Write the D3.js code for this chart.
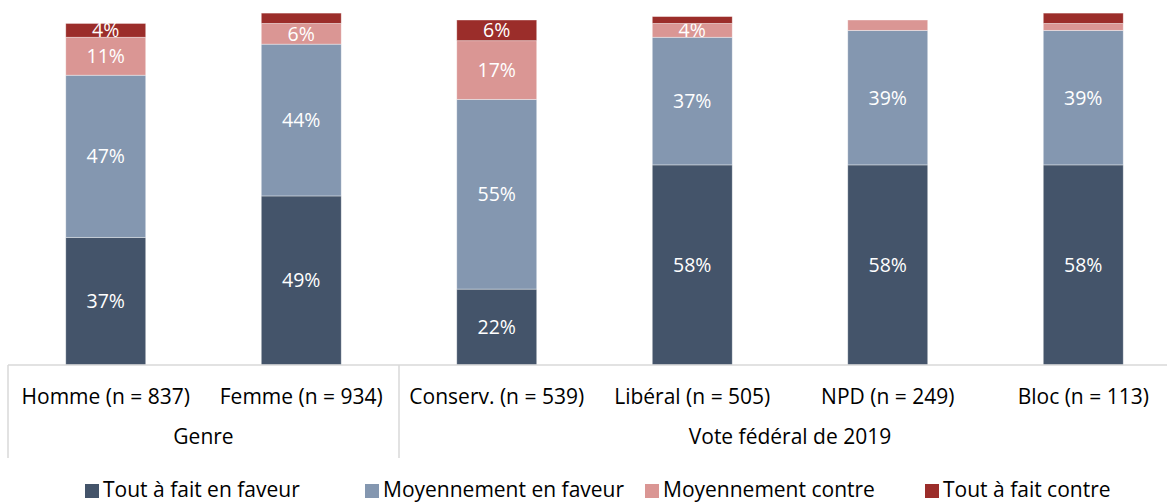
<!DOCTYPE html>
<html>
<head>
<meta charset="utf-8">
<script src="https://cdn.jsdelivr.net/npm/d3@7"></script>
<style>
  body { margin: 0; background: #fff; }
  text { font-family: "Open Sans", sans-serif; }
</style>
</head>
<body>
<svg id="chart" width="1167" height="503"></svg>
<script>
// categories and groups
var categories = ["Homme (n = 837)", "Femme (n = 934)", "Conserv. (n = 539)",
                  "Libéral (n = 505)", "NPD (n = 249)", "Bloc (n = 113)"];
var groups = ["Genre", "Genre", "Vote fédéral de 2019",
              "Vote fédéral de 2019", "Vote fédéral de 2019", "Vote fédéral de 2019"];

// series (percent)
var seriesNames = ["Tout à fait en faveur", "Moyennement en faveur", "Moyennement contre", "Tout à fait contre"];
var toutFaveur   = [37, 49, 22, 58, 58, 58];
var moyenFaveur  = [47, 44, 55, 37, 39, 39];
var moyenContre  = [11, 6, 17, 4, 3, 2];
var toutContre   = [4, 3, 6, 2, 0, 3];

var colors = ["#44546a", "#8497b0", "#da9694", "#9b2d2a"];

var svg = d3.select("#chart"),
    left = 8,
    right = 1181,
    baseY = 365,
    topY = 20;

var table = categories.map(function(c, i) {
    return {
        cat: c,
        s0: toutFaveur[i],
        s1: moyenFaveur[i],
        s2: moyenContre[i],
        s3: toutContre[i]
    };
});

var keys = ["s0", "s1", "s2", "s3"];
var stacked = d3.stack().keys(keys)(table);

var xScale = d3.scaleBand().domain(categories).range([left, right])
    .paddingInner(0.591).paddingOuter(0.2955);
var yScale = d3.scaleLinear().domain([0, 100]).range([baseY, topY]);

var layers = svg.append("g").selectAll("g")
    .data(stacked)
    .enter().append("g")
    .attr("fill", function(d, i) { return colors[i]; });

layers.selectAll("rect")
    .data(function(d) { return d; })
    .enter().append("rect")
    .attr("x", function(d) { return xScale(d.data.cat); })
    .attr("y", function(d) { return yScale(d[1]); })
    .attr("width", xScale.bandwidth())
    .attr("height", function(d) { return yScale(d[0]) - yScale(d[1]); })
    .attr("stroke", "#ffffff")
    .attr("stroke-opacity", 0.5)
    .attr("stroke-width", 0.75);

// value labels (only segments big enough)
layers.selectAll("text")
    .data(function(d) { return d; })
    .enter().filter(function(d) { return d[1] - d[0] >= 4; })
    .append("text")
    .attr("x", function(d) { return xScale(d.data.cat) + xScale.bandwidth() / 2; })
    .attr("y", function(d) { return (yScale(d[0]) + yScale(d[1])) / 2; })
    .attr("dy", "0.36em")
    .attr("text-anchor", "middle")
    .attr("fill", "#ffffff")
    .style("font-size", "19.5px")
    .text(function(d) { return (d[1] - d[0]) + "%"; });

// category axis
var axis = svg.append("g").attr("class", "axis");
axis.append("line")
    .attr("x1", left).attr("x2", 1167)
    .attr("y1", baseY).attr("y2", baseY)
    .attr("stroke", "#d9d9d9").attr("stroke-width", 1.5);

axis.selectAll(".cat")
    .data(categories)
    .enter().append("text")
    .attr("class", "cat")
    .attr("x", function(d) { return xScale(d) + xScale.bandwidth() / 2; })
    .attr("y", 404)
    .attr("text-anchor", "middle")
    .attr("fill", "#000")
    .style("font-size", "21px")
    .text(function(d) { return d; });

// group labels and separators
var groupNames = Array.from(new Set(groups));
var groupInfo = groupNames.map(function(g) {
    var cats = categories.filter(function(c, i) { return groups[i] === g; });
    var step = xScale.step();
    var x0 = xScale(cats[0]) - (step - xScale.bandwidth()) / 2;
    var x1 = xScale(cats[cats.length - 1]) + xScale.bandwidth() + (step - xScale.bandwidth()) / 2;
    return { name: g, x0: x0, x1: x1 };
});

axis.selectAll(".sep")
    .data(groupInfo)
    .enter().append("line")
    .attr("x1", function(d) { return d.x0; })
    .attr("x2", function(d) { return d.x0; })
    .attr("y1", baseY).attr("y2", 458)
    .attr("stroke", "#d9d9d9").attr("stroke-width", 1.5);

axis.selectAll(".grp")
    .data(groupInfo)
    .enter().append("text")
    .attr("x", function(d) { return (d.x0 + d.x1) / 2; })
    .attr("y", 444)
    .attr("text-anchor", "middle")
    .attr("fill", "#000")
    .style("font-size", "21px")
    .text(function(d) { return d.name; });

// legend
var legend = svg.append("g").selectAll("g")
    .data(seriesNames)
    .enter().append("g")
    .attr("transform", function(d, i) { return "translate(" + (85 + i * 280) + ",0)"; });

legend.append("rect")
    .attr("x", 0).attr("y", 484)
    .attr("width", 14).attr("height", 14)
    .attr("fill", function(d, i) { return colors[i]; });

legend.append("text")
    .attr("x", 18).attr("y", 497)
    .attr("fill", "#000")
    .style("font-size", "21px")
    .text(function(d) { return d; });
</script>
</body>
</html>
